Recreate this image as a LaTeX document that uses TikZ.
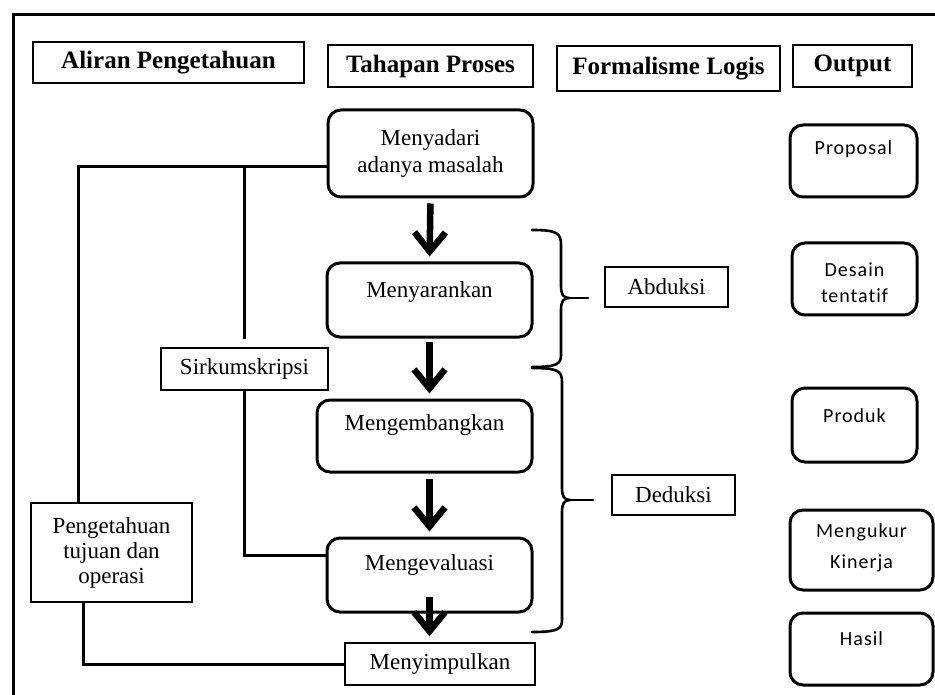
\documentclass[tikz,border=0pt]{standalone}
\usepackage{fontspec}
\setmainfont{Liberation Serif}
\newfontfamily\outfont[LetterSpace=5,Ligatures=NoCommon]{Carlito}
\usetikzlibrary{arrows.meta}
\newcommand{\Rz}[2]{\raisebox{#1}[0pt][0pt]{#2}}
\newcommand{\Tw}[4]{\raisebox{#1}[0pt][0pt]{\begin{tabular}[b]{@{}c@{}}#3\\[#2]#4\end{tabular}}}
\begin{document}
\begin{tikzpicture}[x=1pt,y=-1pt,
  hdr/.style={draw, line width=1.5pt, inner sep=0pt, font=\bfseries\fontsize{25}{27}\selectfont},
  proc/.style={draw, line width=3pt, rounded corners=13pt, inner sep=0pt, align=center, font=\fontsize{23}{27}\selectfont},
  thin/.style={draw, line width=1.4pt, inner sep=0pt, align=center, font=\fontsize{23}{25}\selectfont},
  outbox/.style={draw, line width=3pt, rounded corners=13pt, inner sep=0pt, font=\outfont\fontsize{20}{26}\selectfont},
  conn/.style={line width=3pt},
  bigarrow/.style={line width=6.5pt, -{Straight Barb[length=19pt,width=31pt,line width=6.5pt]}},
  bracestyle/.style={line width=2.6pt, line cap=round}]
\useasboundingbox (0,0) rectangle (935,695);
\fill[white] (0,0) rectangle (935,695);
% outer frame
\draw[line width=3pt] (13,700) -- (13,15) -- (940,15);
% headers
\node[hdr, minimum width=271pt, minimum height=41pt] (aliran) at (168.5,62.5) {Aliran Pengetahuan};
\node[hdr, minimum width=205pt, minimum height=42pt] (tahapan) at (430.5,66) {Tahapan Proses};
\node[hdr, minimum width=223pt, minimum height=45pt] (formal) at (668.5,68.5) {Formalisme Logis};
\node[hdr, minimum width=119pt, minimum height=42pt] (output) at (852.5,66) {Output};
% process boxes
\node[proc, minimum width=205pt, minimum height=87pt] (menyadari) at (430.5,153.5) {Menyadari\\adanya masalah};
\node[proc, minimum width=205pt, minimum height=74pt] (menyarankan) at (429.5,300) {\Rz{2pt}{Menyarankan}};
\node[proc, minimum width=215pt, minimum height=72pt] (mengembangkan) at (424.5,436) {\Rz{6pt}{Mengembangkan}};
\node[proc, minimum width=205pt, minimum height=74pt] (mengev) at (429.5,575) {\Rz{5pt}{Mengevaluasi}};
\node[thin, minimum width=190pt, minimum height=42pt] (menyimp) at (440,664) {Menyimpulkan};
% arrows
\draw[bigarrow, shorten <=5pt, shorten >=5pt] (menyadari.south) -- (menyarankan.north);
\draw[bigarrow, shorten <=3pt, shorten >=5pt] (menyarankan.south) -- (menyarankan.south |- mengembangkan.north);
\draw[bigarrow, shorten <=5pt, shorten >=5pt] (mengembangkan.south -| menyarankan.south) -- (mengev.north);
\draw[bigarrow, shorten >=6pt] ([yshift=17pt]mengev.south) -- (mengev.south |- menyimp.north);
% left side
\node[thin, minimum width=167pt, minimum height=42pt] (sirk) at (244.5,369) {Sirkumskripsi};
\node[thin, minimum width=161pt, minimum height=99pt] (penget) at (111.5,552.5) {Pengetahuan\\tujuan dan\\operasi};
\coordinate (ja) at (78,167);
\coordinate (jb) at (244.5,167);
\coordinate (jc) at (244.5,555);
\coordinate (jd) at (83,664);
\draw[conn] (menyadari.west |- ja) -- (ja) -- (ja |- penget.north);
\draw[conn, shorten >=8pt] (jb) -- (sirk.north);
\draw[conn] (sirk.south) -- (jc) -- (mengev.west |- jc);
\draw[conn] (jd |- penget.south) -- (jd) -- (menyimp.west);
% logic formalism
\node[thin, minimum width=123pt, minimum height=40pt] (abduksi) at (666.5,287) {Abduksi};
\node[thin, minimum width=123pt, minimum height=40pt] (deduksi) at (673.5,495) {Deduksi};
\draw[bracestyle] (532,230) .. controls (557,230) and (561,233) .. (561,245) -- (561,286)
  .. controls (561,294) and (563,298) .. (569,298) .. controls (563,298) and (561,302) .. (561,310)
  -- (561,355) .. controls (561,364) and (557,367) .. (532,367);
\draw[bracestyle] (566,298) -- (588,298);
\draw[bracestyle] (532,368) .. controls (558,368) and (562,371) .. (562,382) -- (562,488)
  .. controls (562,496) and (564,500) .. (570,500) .. controls (564,500) and (562,504) .. (562,512)
  -- (562,620) .. controls (562,629) and (558,632) .. (532,632);
\draw[bracestyle] (567,500) -- (593,500);
% outputs
\node[outbox, minimum width=127pt, minimum height=72pt] (proposal) at (853.5,161) {\Rz{6pt}{Proposal}};
\node[outbox, minimum width=125pt, minimum height=72pt] (desain) at (854.5,279) {\Tw{-24pt}{0pt}{Desain}{tentatif}};
\node[outbox, minimum width=125pt, minimum height=74pt] (produk) at (854.5,425) {\Rz{3pt}{Produk}};
\node[outbox, minimum width=143pt, minimum height=80pt] (mengukur) at (861.5,550) {\Tw{-18pt}{5pt}{Mengukur}{Kinerja}};
\node[outbox, minimum width=143pt, minimum height=72pt] (hasil) at (861.5,649) {\Rz{4pt}{Hasil}};
\end{tikzpicture}
\end{document}
